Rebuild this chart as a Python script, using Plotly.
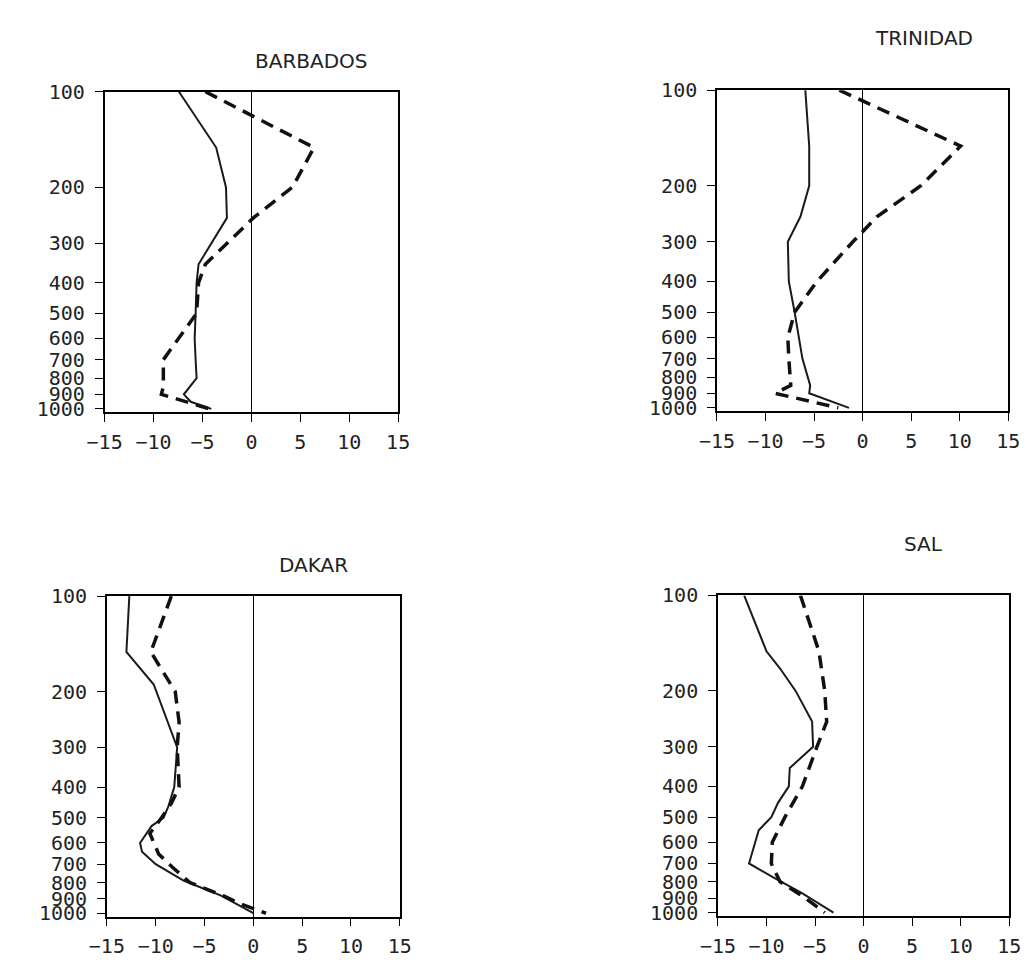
import math
import plotly.graph_objects as go

# ---------------- data ----------------
pressure_ticks = [100, 200, 300, 400, 500, 600, 700, 800, 900, 1000]
pressure_labels = [str(p) for p in pressure_ticks]
value_ticks = [-15, -10, -5, 0, 5, 10, 15]
value_labels = ["\u221215", "\u221210", "\u22125", "0", "5", "10", "15"]

stations = ["BARBADOS", "TRINIDAD", "DAKAR", "SAL"]

barbados_solid_p = [100, 150, 200, 250, 350, 400, 500, 600, 700, 800, 900, 950, 1000]
barbados_solid_v = [-7.4, -3.6, -2.6, -2.5, -5.4, -5.6, -5.7, -5.8, -5.7, -5.6, -6.9, -6.2, -4.1]
barbados_dash_p = [100, 150, 200, 250, 350, 400, 500, 700, 850, 900, 1000]
barbados_dash_v = [-4.7, 6.4, 4.2, 0.2, -4.7, -5.4, -5.6, -9.0, -9.0, -9.2, -4.3]

trinidad_solid_p = [100, 150, 200, 250, 300, 400, 500, 600, 700, 850, 900, 1000]
trinidad_solid_v = [-5.9, -5.5, -5.5, -6.4, -7.7, -7.6, -7.0, -6.6, -6.2, -5.4, -5.5, -1.4]
trinidad_dash_p = [100, 150, 200, 250, 300, 400, 500, 600, 700, 850, 900, 1000]
trinidad_dash_v = [-2.4, 10.1, 6.0, 1.5, -1.0, -4.7, -7.0, -7.7, -7.6, -7.4, -9.0, -2.5]

dakar_solid_p = [100, 150, 190, 275, 300, 400, 460, 500, 530, 600, 640, 700, 790, 880, 1000]
dakar_solid_v = [-12.7, -13.0, -10.2, -8.2, -7.8, -8.1, -8.7, -9.2, -10.4, -11.6, -11.4, -10.0, -7.1, -3.3, 0.0]
dakar_dash_p = [100, 150, 200, 250, 300, 400, 450, 500, 560, 650, 720, 800, 880, 940, 1000]
dakar_dash_v = [-8.4, -10.5, -8.0, -7.6, -7.8, -7.6, -8.4, -9.4, -10.6, -9.7, -8.2, -6.5, -3.1, -1.1, 1.3]

sal_solid_p = [100, 150, 170, 200, 250, 300, 350, 400, 450, 500, 550, 700, 775, 870, 1000]
sal_solid_v = [-12.3, -10.0, -8.6, -7.0, -5.3, -5.2, -7.6, -7.7, -8.8, -9.5, -10.8, -11.8, -9.3, -6.3, -3.1]
sal_dash_p = [100, 150, 200, 250, 300, 400, 500, 600, 700, 800, 900, 1000]
sal_dash_v = [-6.5, -4.6, -4.0, -3.8, -4.8, -6.3, -8.1, -9.4, -9.5, -8.6, -6.0, -4.0]

solid_series = [(barbados_solid_v, barbados_solid_p), (trinidad_solid_v, trinidad_solid_p),
                (dakar_solid_v, dakar_solid_p), (sal_solid_v, sal_solid_p)]
dash_series = [(barbados_dash_v, barbados_dash_p), (trinidad_dash_v, trinidad_dash_p),
               (dakar_dash_v, dakar_dash_p), (sal_dash_v, sal_dash_p)]

# ---------------- layout ----------------
W, H = 1030, 960
# pixel boxes of the plot areas: x0, x1, y_top, y_bottom
boxes = [(81, 383.3, 73.3, 401), (711.7, 1011.7, 71.7, 400),
         (83.3, 385, 589, 916.7), (712.7, 1012.7, 588.3, 916)]
title_pos = [(294, 42), (925, 18), (296, 557), (924, 536)]

TICK_FONT = "DejaVu Sans Mono"
TITLE_FONT = "DejaVu Sans"
fig = go.Figure()
for i in range(4):
    sfx = "" if i == 0 else str(i + 1)
    xa, ya = "x" + sfx, "y" + sfx
    sv, sp = solid_series[i]
    dv, dp = dash_series[i]
    fig.add_trace(go.Scatter(x=sv, y=sp, mode="lines", xaxis=xa, yaxis=ya,
                             line=dict(color="#1a1a1a", width=2), showlegend=False,
                             hoverinfo="skip"))
    fig.add_trace(go.Scatter(x=dv, y=dp, mode="lines", xaxis=xa, yaxis=ya,
                             line=dict(color="#111111", width=3.5, dash="13px,8px"),
                             showlegend=False, hoverinfo="skip"))
    x0, x1, yt, yb = boxes[i]
    common = dict(showline=True, mirror=True, linecolor="black", linewidth=1.5,
                  ticks="outside", ticklen=8, tickwidth=1.3, tickcolor="black",
                  showgrid=False, tickfont=dict(family=TICK_FONT, size=20, color="#222"))
    fig.layout["xaxis" + sfx] = dict(
        domain=[x0 / W, x1 / W], anchor=ya, range=[-15, 15],
        tickmode="array", tickvals=value_ticks, ticktext=value_labels,
        zeroline=True, zerolinecolor="black", zerolinewidth=1.2,
        ticklabelstandoff=3, **common)
    fig.layout["yaxis" + sfx] = dict(
        domain=[1 - yb / H, 1 - yt / H], anchor=xa, type="log",
        range=[math.log10(1025), 2], tickmode="array",
        tickvals=pressure_ticks, ticktext=pressure_labels, zeroline=False,
        ticklabelstandoff=6, **common)
    cx, cy = title_pos[i]
    fig.add_annotation(text=stations[i], x=cx / W, y=1 - cy / H, xref="paper", yref="paper",
                       xanchor="center", yanchor="middle", showarrow=False,
                       font=dict(family=TITLE_FONT, size=20, color="#222"))

fig.update_layout(width=W, height=H, margin=dict(l=0, r=0, t=0, b=0),
                  plot_bgcolor="white", paper_bgcolor="white", showlegend=False)
fig.write_html("out.html")
